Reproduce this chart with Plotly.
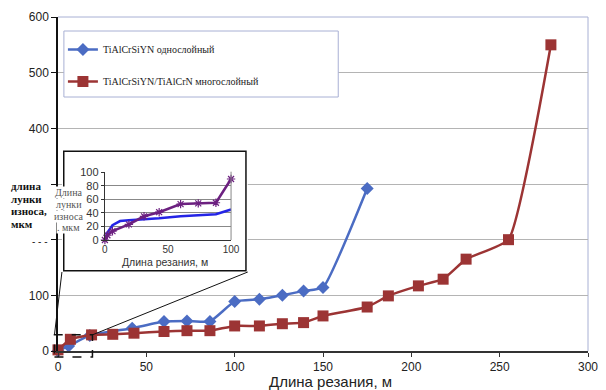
import plotly.graph_objects as go

# ---------------- data ----------------
single_x = [0, 6, 18, 42, 60, 73, 86, 100, 114, 127, 139, 150, 175]
single_y = [0, 9, 28, 41, 53, 54, 53, 89, 93, 100, 108, 114, 292]

multi_x = [0, 7, 19, 31, 43, 60, 73, 86, 100, 114, 127, 139, 150, 175, 187, 204, 218, 231, 255, 279]
multi_y = [2, 21, 29, 30, 32, 35, 36.5, 36.5, 45, 45, 49, 51, 63, 79, 99, 117, 129, 165, 200, 550]

inset_blue_x = [0, 2, 6, 12, 19, 31, 43, 60, 74, 88, 100]
inset_blue_y = [0, 11, 22, 28, 29, 30, 32, 35, 37, 38, 45]
inset_purple_x = [0, 2, 6, 19, 31, 43, 60, 74, 88, 100]
inset_purple_y = [0, 7, 13, 23, 35, 41, 53, 54, 55, 90]

main_yticks = [0, 100, 200, 300, 400, 500, 600]
main_yticktext = ["0", "100", "", "", "400", "500", "600"]
main_xticks = [0, 50, 100, 150, 200, 250, 300]
inset_xticks = [0, 50, 100]
inset_yticks = [0, 20, 40, 60, 80, 100]

zoom_x = [-2, 19.5]
zoom_y = [-11, 29]

name_single = "TiAlCrSiYN однослойный"
name_multi = "TiAlCrSiYN/TiAlCrN многослойный"
xtitle = "Длина резания, м"
outer_label = ["длина", "лунки", "износа,", "мкм"]
inset_label = ["Длина", "лунки", "износа", ". мкм"]

# ---------------- geometry ----------------
W, H = 606, 390
L, R, T, B = 58, 9, 17, 39
PW, PH = W - L - R, H - T - B
XR = [0, 300]
YR = [0, 600]


def px(p):
    return (p - L) / PW


def py(p):
    return (H - B - p) / PH


def dx(v):
    return (v - XR[0]) / (XR[1] - XR[0])


def dy(v):
    return (v - YR[0]) / (YR[1] - YR[0])


BLUE = "#4b6cc3"
RED = "#9c3434"
IBLUE = "#2424e6"
IPURPLE = "#6c2080"
IPINK = "#cf8ad6"
SANS = "Liberation Sans, Arial, sans-serif"
SERIF = "Liberation Serif, Times New Roman, serif"

fig = go.Figure()

fig.add_trace(go.Scatter(
    x=single_x, y=single_y, mode="lines+markers", name=name_single,
    line=dict(color=BLUE, width=2.5, shape="spline", smoothing=0.4),
    marker=dict(symbol="diamond", size=10, color=BLUE),
    cliponaxis=False, legendgroup="a"))
fig.add_trace(go.Scatter(
    x=multi_x, y=multi_y, mode="lines+markers", name=name_multi,
    line=dict(color=RED, width=2.5, shape="spline", smoothing=0.4),
    marker=dict(symbol="square", size=11, color=RED),
    cliponaxis=False, legendgroup="b"))

# inset traces
fig.add_trace(go.Scatter(
    x=inset_blue_x, y=inset_blue_y, mode="lines", xaxis="x3", yaxis="y3",
    line=dict(color=IBLUE, width=2.5), showlegend=False, hoverinfo="skip"))
fig.add_trace(go.Scatter(
    x=inset_purple_x, y=inset_purple_y, mode="lines+markers", xaxis="x3", yaxis="y3",
    line=dict(color=IPURPLE, width=2.5),
    marker=dict(symbol="asterisk-open", size=7, line=dict(color=IPINK, width=1.2)),
    showlegend=False, hoverinfo="skip", cliponaxis=False))

shapes = [
    # top & right frame of main plot
    dict(type="line", xref="paper", yref="paper", x0=0, x1=1, y0=1, y1=1,
         line=dict(color="#a8b0d4", width=1), layer="below"),
    dict(type="line", xref="paper", yref="paper", x0=1, x1=1, y0=0, y1=1,
         line=dict(color="#a8b0d4", width=1), layer="below"),
    # legend box
    dict(type="rect", xref="paper", yref="paper", x0=px(64), x1=px(343), y0=py(97), y1=py(31),
         line=dict(color="#a8b0d4", width=1), fillcolor="white", layer="above"),
    # inset frame (white, on its own subplot so it covers main gridlines)
    dict(type="rect", xref="x2", yref="y2", x0=0, x1=1, y0=0, y1=1,
         line=dict(color="#111", width=1.5), fillcolor="white", layer="below"),
    # inset right border
    dict(type="line", xref="x3 domain", yref="y3 domain", x0=1, x1=1, y0=0, y1=1,
         line=dict(color="#888", width=1)),
    # dashed zoom box
    dict(type="rect", xref="paper", yref="paper",
         x0=dx(zoom_x[0]), x1=dx(zoom_x[1]), y0=dy(zoom_y[0]), y1=dy(zoom_y[1]),
         line=dict(color="#111", width=1.5, dash="dash"), layer="above"),
    # connectors
    dict(type="line", xref="paper", yref="paper",
         x0=dx(zoom_x[0]), y0=dy(zoom_y[1]), x1=px(62), y1=py(272),
         line=dict(color="#111", width=1), layer="above"),
    dict(type="line", xref="paper", yref="paper",
         x0=dx(zoom_x[1]), y0=dy(zoom_y[1]), x1=px(251), y1=py(272),
         line=dict(color="#111", width=1), layer="above"),
]

annotations = [
    dict(text=xtitle, xref="paper", yref="paper", x=px(335), y=py(382),
         xanchor="center", yanchor="middle",
         showarrow=False, font=dict(family=SANS, size=15, color="#222")),
    dict(text=xtitle, xref="paper", yref="paper", x=px(167), y=py(262),
         xanchor="center", yanchor="middle",
         showarrow=False, font=dict(family=SANS, size=10.5, color="#333")),
    dict(text="- - -", xref="paper", yref="paper", x=px(40), y=py(241),
         xanchor="center", yanchor="middle",
         showarrow=False, font=dict(family=SANS, size=10, color="#222")),
]
for i, s in enumerate(outer_label):
    annotations.append(dict(text="<b>%s</b>" % s, xref="paper", yref="paper",
                            x=px(8), y=py(186 + 12.7 * i), xanchor="left", yanchor="middle",
                            showarrow=False,
                            font=dict(family=SERIF, size=11, color="#111")))
for i, s in enumerate(inset_label):
    annotations.append(dict(text=s, xref="paper", yref="paper",
                            x=px(69), y=py(192 + 12 * i), xanchor="center", yanchor="middle",
                            showarrow=False, bgcolor="white", borderpad=0,
                            font=dict(family=SERIF, size=10, color="#555")))

fig.update_layout(
    width=W, height=H,
    margin=dict(l=L, r=R, t=T, b=B),
    paper_bgcolor="white", plot_bgcolor="white",
    showlegend=True,
    legend=dict(x=px(63), y=py(35), xanchor="left", yanchor="top",
                bgcolor="rgba(0,0,0,0)", borderwidth=0, tracegroupgap=13,
                font=dict(family=SERIF, size=10, color="#222")),
    xaxis=dict(range=XR, tickvals=main_xticks, showgrid=False, zeroline=False,
               showline=True, linecolor="#333", linewidth=1.5,
               ticks="outside", ticklen=4, tickcolor="#333",
               tickfont=dict(family=SANS, size=12, color="#222")),
    yaxis=dict(range=YR, tickvals=main_yticks, ticktext=main_yticktext,
               showgrid=True, gridcolor="#b4b4b4", gridwidth=1, zeroline=False,
               showline=True, linecolor="#111", linewidth=1.5,
               ticks="outside", ticklen=5, tickcolor="#111",
               tickfont=dict(family=SANS, size=12, color="#222")),
    xaxis2=dict(domain=[px(62), px(251)], anchor="y2", range=[-0.01, 1.01], visible=False),
    yaxis2=dict(domain=[py(272), py(150)], anchor="x2", range=[-0.01, 1.01], visible=False),
    xaxis3=dict(domain=[px(105.7), px(234)], anchor="y3", range=[0, 100],
                tickvals=inset_xticks, showgrid=False, zeroline=False,
                showline=True, linecolor="#333", linewidth=1.2,
                ticks="", ticklen=0,
                tickfont=dict(family=SANS, size=10, color="#333")),
    yaxis3=dict(domain=[py(240), py(171.7)], anchor="x3", range=[0, 100.8],
                tickvals=inset_yticks, showgrid=True, gridcolor="#888", gridwidth=1,
                zeroline=False, showline=True, linecolor="#333", linewidth=1.2,
                ticks="outside", ticklen=3, tickcolor="#333",
                tickfont=dict(family=SANS, size=11, color="#333")),
    shapes=shapes,
    annotations=annotations,
)

fig.write_html("out.html")
